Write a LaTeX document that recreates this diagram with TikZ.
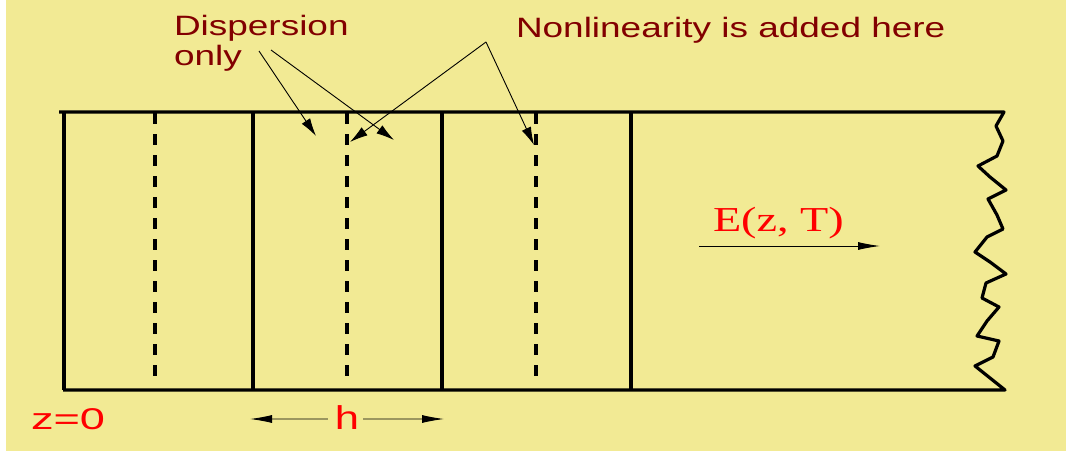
\documentclass[tikz,border=0pt]{standalone}
\usepackage{fontspec}
\setmainfont{Liberation Sans}
\newfontfamily\fieldfont{Liberation Serif}
\usetikzlibrary{arrows.meta,positioning}
\definecolor{bgYel}{RGB}{242,234,148}
\definecolor{lblRed}{RGB}{130,0,0}
\definecolor{symRed}{RGB}{255,0,0}

\begin{document}
\begin{tikzpicture}[x=1pt,y=-1pt,
  every node/.style={inner sep=0pt,outer sep=0pt},
  lbl/.style={text=lblRed,xscale=1.32,font=\fontsize{28}{30.5}\selectfont,align=left},
  sym/.style={text=symRed,xscale=1.32},
  wall/.style={line width=3.2pt,line join=round},
  cut/.style={line width=3.2pt,dash pattern=on 11pt off 10pt},
  ptr/.style={line width=0.9pt,-{Latex[length=18pt,width=10pt]}},
  dim/.style={line width=0.9pt,-{Latex[length=22pt,width=8pt]}}
]
\useasboundingbox (0,0) rectangle (1069,455);
\fill[bgYel] (6,0) rectangle (1066,451);

% fibre with broken right end
\draw[wall] (59,112) -- (1004,112) -- (996,126) -- (1003,141) -- (997,156)
  -- (978,166) -- (990,177) -- (1006,190) -- (988,199) -- (997,215)
  -- (1003,229) -- (987,237) -- (975,252) -- (990,262) -- (1006,274)
  -- (986,283) -- (982,298) -- (999,307) -- (987,321) -- (977,336)
  -- (999,341) -- (993,357) -- (975,366) -- (1005,390) -- (63,390);
\foreach \x in {64,253,442,631}
  \draw[wall] (\x,112) -- (\x,390);
\foreach \x in {155,347,536}
  \draw[cut] (\x,113) -- (\x,386);

% labels
\node[lbl,anchor=north west] (disp) at (174,15) {Dispersion\\only};
\node[lbl,anchor=base west] (nonlin) at (516,37) {Nonlinearity is added here};
\node[sym,font=\fieldfont\fontsize{35}{35}\selectfont,anchor=base west] (field) at (713,231) {E(z, T)};
\node[sym,xscale=1.14,font=\fontsize{30}{30}\selectfont,anchor=base west] (origin) at (31,429) {z=0};
\node[sym,font=\fontsize{33}{33}\selectfont,anchor=base] (hlbl) at (347,429) {h};

\coordinate (dtail1) at (259,51);
\coordinate (dtail2) at (271,50);
\coordinate (dtip1) at (316,136);
\coordinate (dtip2) at (394,140);
\coordinate (ntail) at (486,42);
\coordinate (ntip1) at (350,142);
\coordinate (ntip2) at (534,145);
\coordinate (hl) at (250,419);
\coordinate (hr) at (444,419);
\coordinate (ftail) at (699,246);
\coordinate (fhead) at (880,246);

\draw[ptr] (dtail1) -- (dtip1);
\draw[ptr] (dtail2) -- (dtip2);
\draw[ptr] (ntail) -- (ntip1);
\draw[ptr] (ntail) -- (ntip2);
\draw[dim] ([shift={(-7,2)}]hlbl.west) -- (hl);
\draw[dim] ([shift={(4,2)}]hlbl.east) -- (hr);
\draw[dim] (ftail) -- (fhead);
\end{tikzpicture}
\end{document}
